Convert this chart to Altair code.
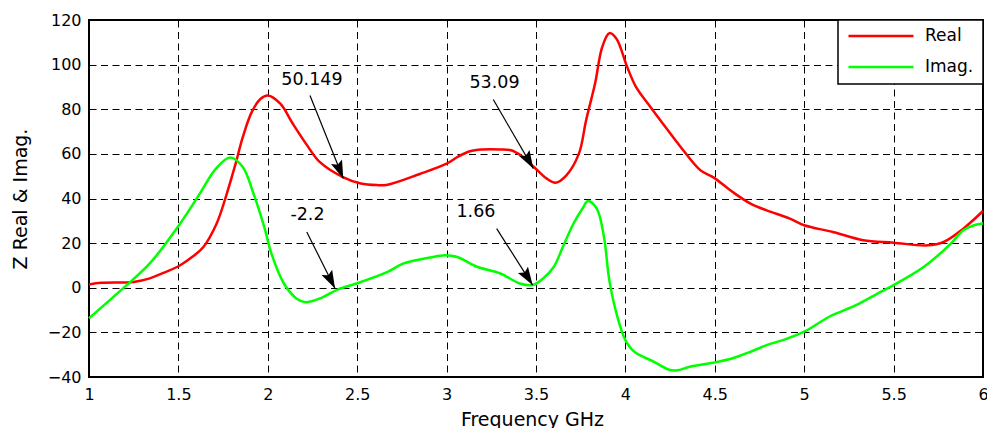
import altair as alt
import pandas as pd

# ---- data ----
real_x = [1.0, 1.07, 1.25, 1.34, 1.43, 1.51, 1.58, 1.64, 1.714, 1.77,
          1.82, 1.86, 1.91, 1.96, 2.0, 2.07, 2.14, 2.22, 2.29, 2.42,
          2.52, 2.61, 2.67, 2.85, 3.0, 3.06, 3.13, 3.2, 3.3, 3.36, 3.42, 3.49, 3.56,
          3.61, 3.67, 3.74, 3.78, 3.83, 3.87, 3.91, 3.95, 4.01, 4.06,
          4.14, 4.21, 4.31, 4.42, 4.49, 4.6, 4.7, 4.79, 4.92, 5.0,
          5.16, 5.33, 5.5, 5.69, 5.78, 5.89, 6.0]
real_y = [1.5, 2.2, 2.6, 4.2, 7.1, 10.1, 14, 18.3, 28.8, 42,
          55.6, 67.5, 78.7, 84.7, 86.2, 82.5, 73.5, 63.8, 56.4, 49.6,
          46.7, 46, 46.2, 51, 55.6, 58.6, 61.2, 62, 62, 61.6, 59, 54, 48.9,
          47.1, 50.4, 60.1, 75, 91.4, 107.8, 114.1, 111.6, 98.9, 89.9,
          81, 73.5, 63, 52.6, 49.6, 42.9, 37.7, 34.7, 31, 28,
          25, 21.3, 20.2, 19, 20.5, 26.5, 34.4]

imag_x = [1.0, 1.19, 1.34, 1.51, 1.62, 1.71, 1.79, 1.86, 1.92, 1.98,
          2.02, 2.09, 2.16, 2.21, 2.3, 2.39, 2.5, 2.67, 2.76, 2.91,
          2.99, 3.06, 3.17, 3.3, 3.41, 3.48, 3.54, 3.6, 3.65, 3.71,
          3.76, 3.79, 3.84, 3.88, 3.91, 3.95, 4.0, 4.05, 4.16, 4.25,
          4.29, 4.36, 4.49, 4.6, 4.7, 4.79, 4.88, 5.0, 5.14, 5.29,
          5.41, 5.5, 5.67, 5.82, 5.89, 5.95, 6.0]
imag_y = [-13.7, -0.3, 10.9, 28.8, 42.2, 53.4, 58.4, 54.1, 42.2, 27.3,
          15.4, 1.9, -4.8, -6.5, -4.5, -0.8, 2, 7.1, 10.9, 13.6,
          14.6, 13.8, 9.4, 6.4, 1.9, 1.2, 4.2, 9.4, 18.3, 28.8,
          35.5, 38.9, 35.5, 22.8, 3.4, -11.5, -23.5, -28.7, -33.2, -36.9,
          -37, -35.4, -33.6, -31.6, -28.7, -25.7, -23.5, -19.7, -13, -7.8,
          -2.6, 1.2, 9.4, 19.8, 25.8, 28, 28.8]

series_names = ["Real", "Imag."]
series_colors = ["#ff0000", "#00ff00"]

ann_label = ["50.149", "53.09", "-2.2", "1.66"]
ann_label_x = [2.247, 3.268, 2.222, 3.164]
ann_label_y = [93.1, 91.6, 32.5, 34.0]
ann_tail_x = [2.236, 3.261, 2.218, 3.28]
ann_tail_y = [86.2, 84.4, 25.0, 26.5]
ann_tip_x = [2.422, 3.485, 2.376, 3.481]
ann_tip_y = [49.0, 53.4, -0.3, 1.2]
ann_angle = [338, 330, 333, 327.6]

x_ticks = [1, 1.5, 2, 2.5, 3, 3.5, 4, 4.5, 5, 5.5, 6]
y_ticks = [-40, -20, 0, 20, 40, 60, 80, 100, 120]

# ---- tables ----
lines = pd.concat([
    pd.DataFrame({"x": real_x, "y": real_y, "series": "Real"}),
    pd.DataFrame({"x": imag_x, "y": imag_y, "series": "Imag."}),
], ignore_index=True)

ann = pd.DataFrame({
    "label": ann_label, "lx": ann_label_x, "ly": ann_label_y,
    "tx": ann_tail_x, "ty": ann_tail_y, "hx": ann_tip_x, "hy": ann_tip_y,
    "angle": ann_angle,
})

FONT = "DejaVu Sans"
xscale = alt.Scale(domain=[1, 6], nice=False, zero=False)
yscale = alt.Scale(domain=[-40, 120], nice=False, zero=False)

xaxis = alt.Axis(
    title="Frequency GHz", values=x_ticks, format=".1~f",
    labelFlush=False, labelOverlap=False, labelBound=False,
    ticks=False, labelPadding=9, domain=False,
    grid=True, gridColor="black", gridDash=[7, 4.5], gridWidth=1, gridOpacity=1,
    labelFontSize=16, titleFontSize=19, titleFontWeight="normal",
    labelColor="black", titleColor="black",
    titleX=443, titleY=48, titleBaseline="alphabetic",
)
yaxis = alt.Axis(
    title="Z Real & Imag.", values=y_ticks,
    labelOverlap=False, labelBound=False, labelFlush=False,
    ticks=False, labelPadding=8, domain=False,
    grid=True, gridColor="black", gridDash=[7, 4.5], gridWidth=1, gridOpacity=1,
    labelFontSize=16, titleFontSize=19, titleFontWeight="normal",
    labelColor="black", titleColor="black",
    titleX=-69, titleY=178.5, titleBaseline="middle", titleAlign="center",
)


def X(field):
    return alt.X(f"{field}:Q", scale=xscale, axis=xaxis)


def Y(field):
    return alt.Y(f"{field}:Q", scale=yscale, axis=yaxis)


line_layer = alt.Chart(lines).mark_line(strokeWidth=2.5, interpolate="catmull-rom").encode(
    x=X("x"),
    y=Y("y"),
    color=alt.Color(
        "series:N",
        scale=alt.Scale(domain=series_names, range=series_colors),
        sort=series_names,
        legend=alt.Legend(
            title=None, orient="top-right", offset=0,
            symbolType="stroke", symbolSize=4225, symbolStrokeWidth=2.5,
            labelFontSize=17, labelFont=FONT, labelColor="black",
            strokeColor="black", fillColor="white",
            padding=9, clipHeight=14, rowPadding=14, labelOffset=10,
        ),
    ),
)

rule_layer = alt.Chart(ann).mark_rule(color="black", strokeWidth=1.2).encode(
    x=X("tx"), y=Y("ty"), x2="hx:Q", y2="hy:Q",
)

head_layer = alt.Chart(ann).mark_point(
    shape="M0,0L-0.33,-1L0,-0.82L0.33,-1Z", size=1296, filled=True,
    color="black", opacity=1, strokeWidth=0,
).encode(
    x=X("hx"), y=Y("hy"), angle=alt.Angle("angle:Q", scale=None),
)

text_layer = alt.Chart(ann).mark_text(
    fontSize=17.5, font=FONT, color="black", align="center", baseline="middle",
).encode(
    x=X("lx"), y=Y("ly"), text="label:N",
)

chart = alt.layer(line_layer, rule_layer, head_layer, text_layer).properties(
    width=894, height=357,
    autosize=alt.AutoSizeParams(type="none"),
    padding={"left": 89, "top": 20, "right": 4, "bottom": 51},
    background="white",
).configure(font=FONT).configure_view(
    stroke="black", strokeWidth=2,
).configure_legend(strokeWidth=1.5)

chart.save("out.html", embed_options={"renderer": "svg", "actions": False})
